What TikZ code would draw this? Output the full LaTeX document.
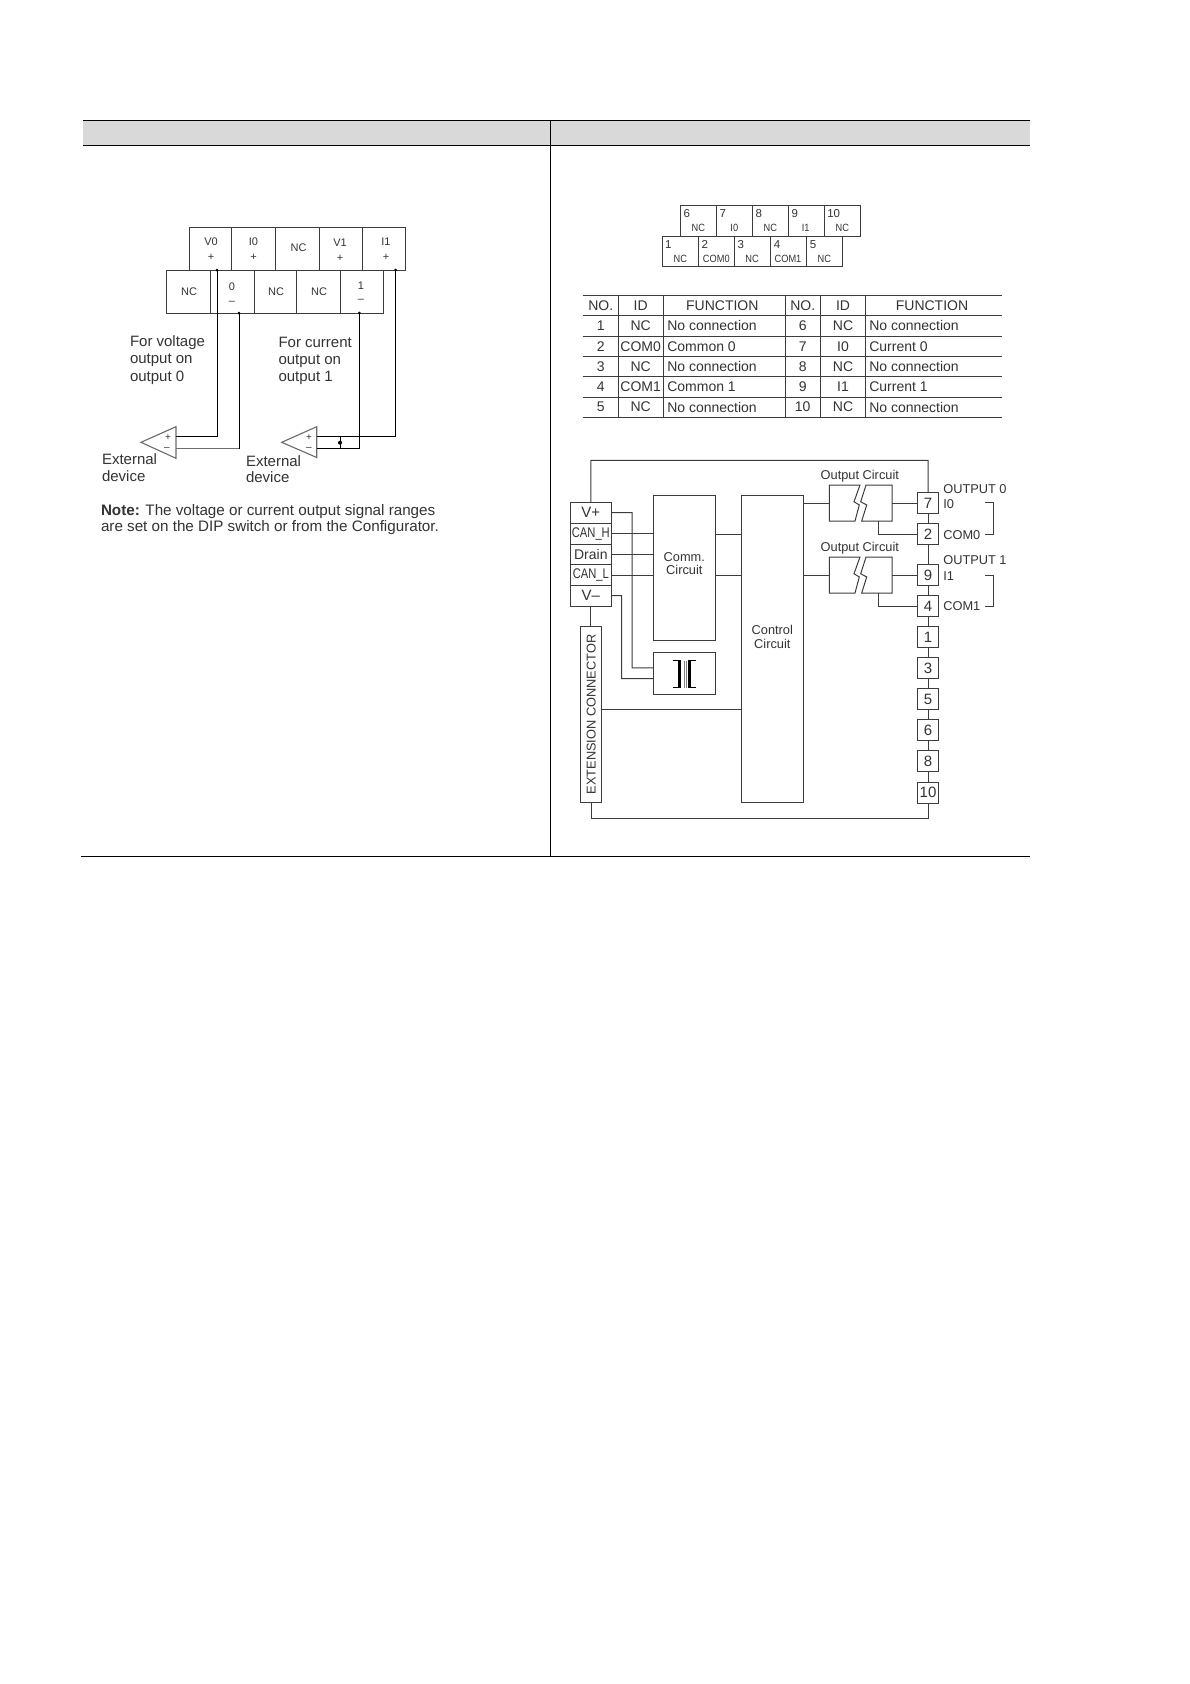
\documentclass[tikz,border=0pt]{standalone}
\usepackage{graphicx}
\usepackage{fontspec}
\setmainfont{Liberation Sans}
\newcommand\fsz[1]{\fontsize{#1}{#1}\selectfont}
\definecolor{ink}{HTML}{333333}
\definecolor{wire}{HTML}{3C3C3C}
\definecolor{band}{HTML}{D9D9D9}
\tikzset{
  txt/.style={inner sep=0pt,outer sep=0pt,text=ink,font=\fsz{#1}},
  txt/.default=14,
  ltxt/.style={txt=#1,anchor=west,align=left},
  ltxt/.default=15,
  wr/.style={draw=wire,line width=1pt},
  thin wr/.style={draw=wire,line width=.9pt},
  bx/.style={draw=wire,line width=1pt,inner sep=0pt,outer sep=0pt,text=ink},
  dev/.style={draw=gray!85!black,line width=1.1pt},
  rule/.style={draw=black,line width=1pt}
}
\newcommand\cell[6]{\node[bx,minimum width={#4-#2},minimum height={#5-#3}] (#1) at ({(#2+#4)/2},{(#3+#5)/2}) {#6};}
\newcommand\term[3]{\node[bx,fill=white,minimum width=21.4,minimum height=20.7,font=\fsz{15}] (#1) at (928,#2) {#3};}
\begin{document}
\begin{tikzpicture}[x=1pt,y=-1pt]
\useasboundingbox (0,0) rectangle (1190,1684);
\fill[white] (0,0) rectangle (1190,1684);

% page table
\fill[band] (83,120) rectangle (1030,145);
\draw[rule] (83,120.5) -- (1030,120.5);
\draw[rule] (83,145.5) -- (1030,145.5);
\draw[rule] (550.5,120) -- (550.5,856.5);
\draw[rule] (81,856.5) -- (1030,856.5);

% left terminal block, top row
\cell{av}{189.3}{227.5}{231.7}{270.7}{}
\cell{ai}{231.7}{227.5}{275.3}{270.7}{}
\cell{anc}{275.3}{227.5}{319}{270.7}{}
\cell{bv}{319}{227.5}{362}{270.7}{}
\cell{bi}{362}{227.5}{405}{270.7}{}
% bottom row
\cell{cnc}{166.7}{270.7}{210.3}{313}{}
\cell{c0}{210.3}{270.7}{254.3}{313}{}
\cell{dnc}{254.3}{270.7}{296.3}{313}{}
\cell{enc}{296.3}{270.7}{340}{313}{}
\cell{c1}{340}{270.7}{383.7}{313}{}
\node[txt=11] (tv0) at (211,241.7) {V0};
\node[txt=11] (pv0) at (211,257) {+};
\node[txt=11] (ti0) at (253.5,241.7) {I0};
\node[txt=11] (pi0) at (253.5,257) {+};
\node[txt=11] (tnc1) at (298.5,248) {NC};
\node[txt=11] (tv1) at (340,243) {V1};
\node[txt=11] (pv1) at (340,258) {+};
\node[txt=11] (ti1) at (386,242) {I1};
\node[txt=11] (pi1) at (386,257) {+};
\node[txt=11] (tnc2) at (189,292) {NC};
\node[txt=11] (t0) at (232,287) {0};
\node[txt=11] (m0) at (232,302.7) {–};
\node[txt=11] (tnc3) at (276,292) {NC};
\node[txt=11] (tnc4) at (319,292) {NC};
\node[txt=11] (t1) at (361,286) {1};
\node[txt=11] (m1) at (361,301) {–};

% external devices
\draw[dev,fill=white] (141,442.3) -- (176,426.7) -- (176,458.3) -- cycle;
\draw[dev,fill=white] (281.7,442.3) -- (316.7,426.7) -- (316.7,457.5) -- cycle;
\node[txt=10] (dp0) at (168,438) {+};
\node[txt=10] (dm0) at (167,449) {–};
\node[txt=10] (dp1) at (309,438) {+};
\node[txt=10] (dm1) at (309,449) {–};
\coordinate (w0a) at (217,270);
\coordinate (w0b) at (239,313);
\coordinate (w0c) at (239,448.7);
\coordinate (w1a) at (359.3,313);
\coordinate (w1b) at (395.7,270);
\coordinate (d0p) at (176,436.7);
\coordinate (d0m) at (176,448.7);
\coordinate (d1p) at (316.7,436.7);
\coordinate (d1m) at (316.7,448.7);
\coordinate (jt) at (340,436.7);
\coordinate (jb) at (340,448.7);
\draw[wr,draw=black] (w0a) |- (d0p);
\draw[wr,draw=gray!85!black] (w0c) -- (d0m);
\draw[wr,draw=black] (w0b) -- (w0c);
\draw[wr,draw=black] (w1a) |- (d1m);
\draw[wr,draw=black] (w1b) |- (d1p);
\draw[wr,draw=black] (jt) -- (jb);
\fill[black] (w0a) circle (1.5) (w0b) circle (1.5) (w1a) circle (1.5) (w1b) circle (1.5) (340,442.7) circle (2);

\node[ltxt] (nfv) at (130,342.7) {For voltage};
\node[ltxt] (nfv2) at (130,360) {output on};
\node[ltxt] (nfv3) at (130,378) {output 0};
\node[ltxt] (nfc) at (278.5,342.7) {For current};
\node[ltxt] (nfc2) at (278.5,361) {output on};
\node[ltxt] (nfc3) at (278.5,378) {output 1};
\node[ltxt] (ex0) at (102,459.5) {External};
\node[ltxt] (ex0b) at (102,476) {device};
\node[ltxt] (ex1) at (246,461) {External};
\node[ltxt] (ex1b) at (246,477.5) {device};
\node[ltxt=15.2] (note) at (101,511.5) {\textbf{Note:} The voltage or current output signal ranges};
\node[ltxt=15.2] (note2) at (101,528) {are set on the DIP switch or from the Configurator.};

% right connector, top row
\cell{p6}{680}{205}{716}{236}{}
\cell{p7}{716}{205}{752.3}{236}{}
\cell{p8}{752.3}{205}{788.3}{236}{}
\cell{p9}{788.3}{205}{824.3}{236}{}
\cell{p10}{824.3}{205}{860.3}{236}{}
\cell{p1}{662.7}{236}{698.3}{266.7}{}
\cell{p2}{698.3}{236}{734.3}{266.7}{}
\cell{p3}{734.3}{236}{770.3}{266.7}{}
\cell{p4}{770.3}{236}{806.3}{266.7}{}
\cell{p5}{806.3}{236}{842.7}{266.7}{}
\foreach \nm/\xa/\ya/\numtxt/\xb/\yb/\idtxt in {
  6/686.7/213.7/6/698.3/227.7/NC, 7/722.7/213.7/7/734.3/227.7/I0,
  8/758.7/213.7/8/770.3/227.7/NC, 9/794.7/213.7/9/805.7/227.7/I1,
  10/833.7/213.7/10/842.3/227.7/NC, 1/668.3/244.3/1/680.3/258.7/NC,
  2/704.7/244.3/2/716.3/258.7/COM0, 3/740.7/244.3/3/752/258.7/NC,
  4/777/244.3/4/788/258.7/COM1, 5/813/244.3/5/824.3/258.7/NC}{
  \node[txt=11.5] (pn\nm) at (\xa,\ya) {\numtxt};
  \node[txt=10.5] (pl\nm) at (\xb,\yb) {\scalebox{.88}[1]{\idtxt}};
}

% pin table
\foreach \yy in {295.7,315.7,336.3,356.7,376.7,397,417}
  \draw[thin wr] (582.7,\yy) -- (1001.7,\yy);
\foreach \xx in {618,663.3,785.3,820.7,865.7}
  \draw[thin wr] (\xx,295.7) -- (\xx,417);
\node[txt=14] (h1) at (600.7,305.7) {NO.};
\node[txt=14] (h2) at (640.7,305.7) {ID};
\node[txt=14] (h3) at (722.3,305.7) {FUNCTION};
\node[txt=14] (h4) at (802.7,305.7) {NO.};
\node[txt=14] (h5) at (843,305.7) {ID};
\node[txt=14] (h6) at (932,305.7) {FUNCTION};
\foreach \rw/\yy/\na/\ia/\fa/\nb/\ib/\fb in {
  1/325.7/1/NC/No connection/6/NC/No connection,
  2/346.5/2/COM0/Common 0/7/I0/Current 0,
  3/366.7/3/NC/No connection/8/NC/No connection,
  4/386.7/4/COM1/Common 1/9/I1/Current 1,
  5/407/5/NC/No connection/10/NC/No connection}{
  \node[txt=14] (ra\rw) at (600.7,\yy) {\na};
  \node[txt=14] (rb\rw) at (640.7,\yy) {\ia};
  \node[ltxt=14] (rc\rw) at (667.3,\yy) {\fa};
  \node[txt=14] (rd\rw) at (802.7,\yy) {\nb};
  \node[txt=14] (re\rw) at (843,\yy) {\ib};
  \node[ltxt=14] (rf\rw) at (869.3,\yy) {\fb};
}

% block diagram
\cell{vp}{570}{502.3}{611.7}{523}{\raisebox{-.6pt}{\fsz{15}V+}}
\cell{canh}{570}{523}{611.7}{544}{\fsz{14}\scalebox{.8}[1]{CAN\_H}}
\cell{drain}{570}{544}{611.7}{564.7}{\raisebox{.8pt}{\fsz{14}Drain}}
\cell{canl}{570}{564.7}{611.7}{585.3}{\fsz{14}\scalebox{.8}[1]{CAN\_L}}
\cell{vm}{570}{585.3}{611.7}{606}{\fsz{15}V–}
\cell{ext}{580.7}{626.7}{601.7}{802.7}{}
\node[txt=12.8,rotate=90] (exttxt) at (591.2,714.5) {EXTENSION CONNECTOR};
\cell{comm}{653.3}{495.3}{715.7}{640}{}
\node[txt=12.8,align=center] (commtxt) at (684.3,563.5) {Comm.\\[.5pt]Circuit};
\cell{ctrl}{741.3}{495.3}{803.7}{802.7}{}
\node[txt=12.8,align=center] (ctrltxt) at (772.3,637) {Control\\[2pt]Circuit};
\cell{trans}{653.3}{652.3}{715.7}{694.3}{}
\draw[black,line width=2.6pt] (679.3,660.7) -- (679.3,687.7) (689.3,660.7) -- (689.3,687.7);
\draw[black,line width=.9pt] (672.7,660.7) -- (681,660.7) (672.7,687.7) -- (681,687.7) (687.6,660.7) -- (695.7,660.7) (687.6,687.7) -- (695.7,687.7);
\draw[gray,line width=.5pt] (684,660.7) -- (684,687.7) (686,660.7) -- (686,687.7);

\term{t7}{503}{7}
\term{t2}{534}{2}
\term{t9}{575.3}{9}
\term{t4}{606.3}{4}
\term{t1}{637.3}{1}
\term{t3}{668.3}{3}
\term{t5}{699.3}{5}
\term{t6}{730.3}{6}
\term{t8}{761}{8}
\term{t10}{792.7}{10}
\draw[wr] (t7) -- (t2) (t2) -- (t9) (t9) -- (t4) (t4) -- (t1) (t1) -- (t3) (t3) -- (t5) (t5) -- (t6) (t6) -- (t8) (t8) -- (t10);

% frame
\coordinate (ftl) at (590.8,460.3);
\coordinate (fbl) at (591.2,818.3);
\draw[wr] (vp.north) -- (ftl) -| (t7.north);
\draw[wr] (ext.south) -- (fbl) -| (t10.south);
\draw[wr] (vm.south) -- (vm.south |- ext.north);

% wires to comm and power
\coordinate (vpk) at (632,512.7);
\coordinate (vmk) at (621.7,595.5);
\draw[wr] (vp.east) -- (vpk) |- ([yshift=5.4pt]trans.west);
\draw[wr] (vm.east) -- (vmk) |- ([yshift=-5.4pt]trans.west);
\draw[wr] (canh.east) -- (canh.east -| comm.west);
\draw[wr] (drain.east) -- (drain.east -| comm.west);
\draw[wr] (canl.east) -- (canl.east -| comm.west);
\coordinate (cc1) at (715.7,534);
\coordinate (cc2) at (715.7,575.3);
\draw[wr] (cc1) -- (cc1 -| ctrl.west);
\draw[wr] (cc2) -- (cc2 -| ctrl.west);
\coordinate (ee) at (601.7,709.3);
\draw[wr] (ee) -- (ee -| ctrl.west);

% output circuits
\foreach \oname/\dy in {a/0,b/72}{
  \begin{scope}[yshift={-\dy*1pt}]
    \draw[wr] (829.3,485) -- (860,485) -- (854,501.7) -- (859.3,505) -- (855,521) -- (829.3,521) -- cycle;
    \draw[wr] (866,485) -- (892,485) -- (892,521) -- (861.7,521) -- (866.7,505) -- (860.7,501.7) -- cycle;
  \end{scope}
}
\coordinate (oal) at (829.3,503);
\coordinate (oar) at (892,503);
\coordinate (oab) at (878.3,521);
\coordinate (obl) at (829.3,575.3);
\coordinate (obr) at (892,575.3);
\coordinate (obb) at (878.3,593);
\draw[wr] (oal -| ctrl.east) -- (oal);
\draw[wr] (oar) -- (t7.west);
\draw[wr] (oab) |- (t2.west);
\draw[wr] (obl -| ctrl.east) -- (obl);
\draw[wr] (obr) -- (t9.west);
\draw[wr] (obb) |- (t4.west);
\node[txt=12.8] (oc1) at (859.8,476) {Output Circuit};
\node[txt=12.8] (oc2) at (859.8,548.5) {Output Circuit};
\node[ltxt=12.8] (l1) at (943.3,488.7) {OUTPUT 0};
\node[ltxt=12.8] (l2) at (943.3,503.7) {I0};
\node[ltxt=12.8] (l3) at (943.3,535.3) {COM0};
\node[ltxt=12.8] (l4) at (943.3,560) {OUTPUT 1};
\node[ltxt=12.8] (l5) at (943.3,576) {I1};
\node[ltxt=12.8] (l6) at (943.3,606.3) {COM1};
\draw[wr] (985,502.7) -- (993.7,502.7) -- (993.7,534.3) -- (985,534.3);
\draw[wr] (985,575.3) -- (993.7,575.3) -- (993.7,606) -- (985,606);
\end{tikzpicture}
\end{document}
